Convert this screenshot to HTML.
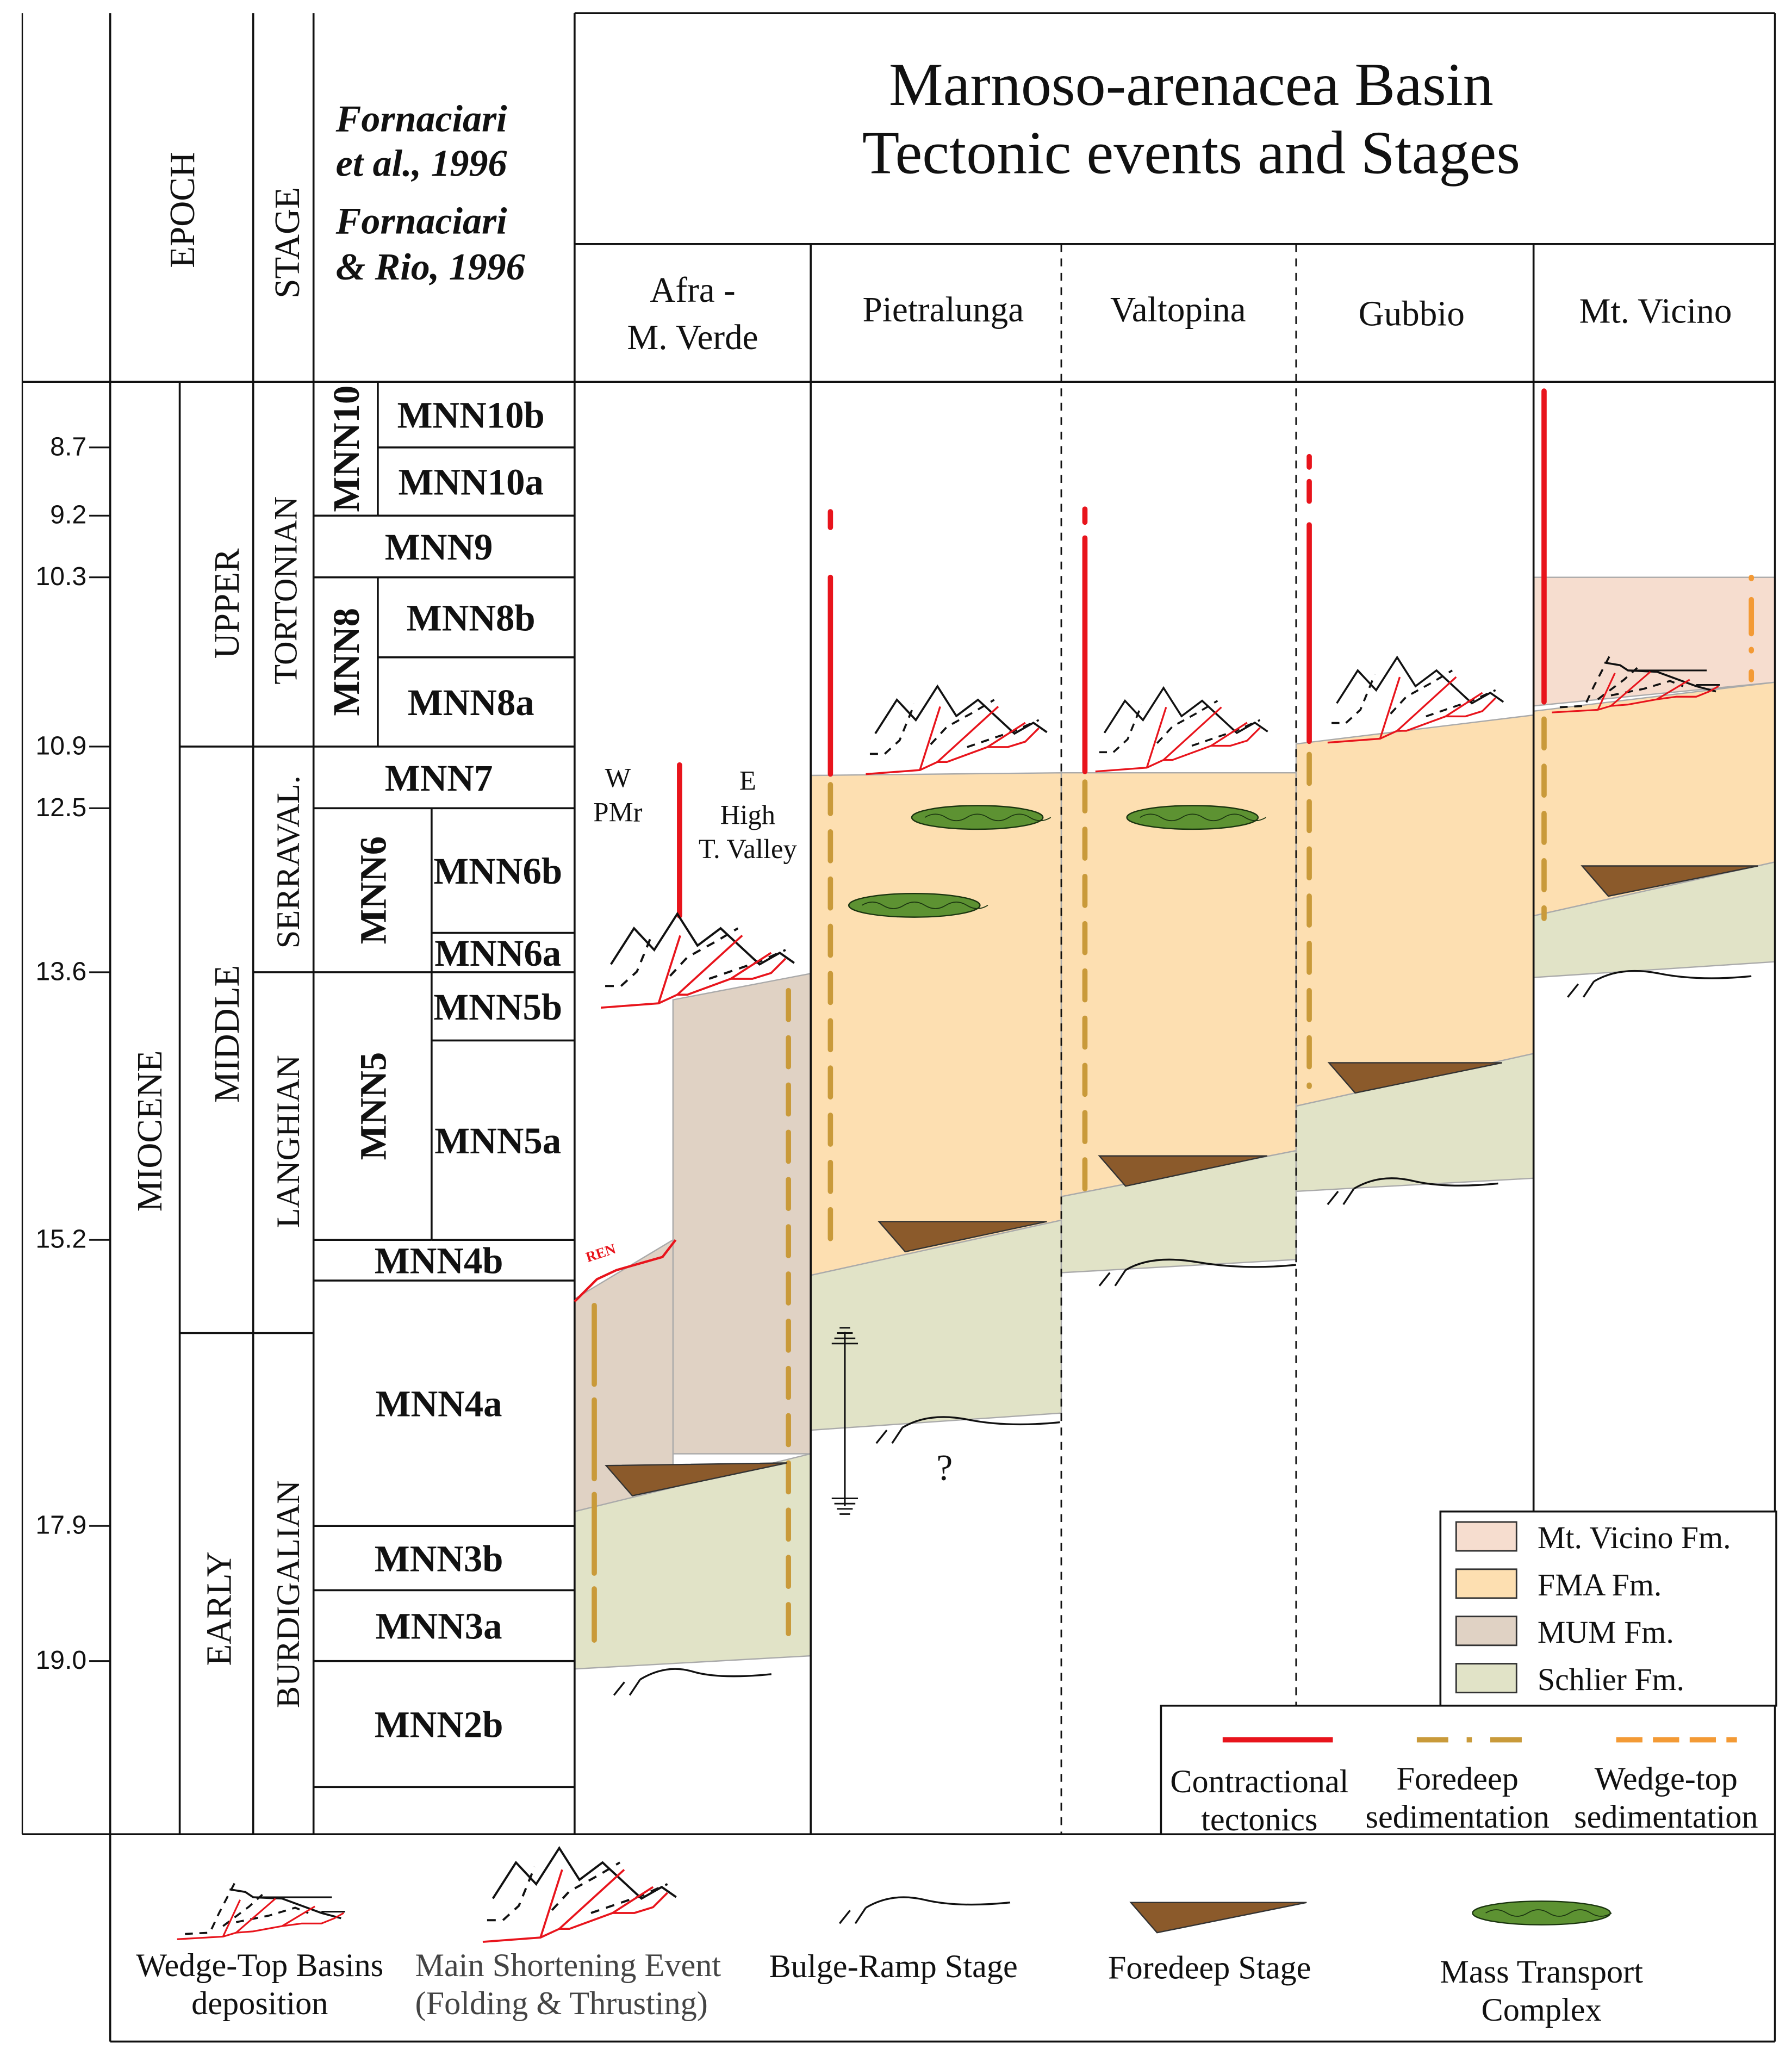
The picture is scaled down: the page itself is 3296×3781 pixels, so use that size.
<!DOCTYPE html>
<html><head><meta charset="utf-8"><style>
html,body{margin:0;padding:0;background:#fff}
svg{display:block}
text{font-family:"Liberation Serif",serif;fill:#111}
</style></head><body>
<svg id="chart" width="3296" height="3781" viewBox="0 0 1366 1567" preserveAspectRatio="none" xmlns="http://www.w3.org/2000/svg">
<g id="fills"></g>
<g id="frame" stroke="#111" stroke-width="1.5" fill="none">
  <line x1="17" y1="291" x2="1353" y2="291"/>
  <line x1="17" y1="1398" x2="1353" y2="1398"/>
  <line x1="84" y1="10" x2="84" y2="1556"/>
  <line x1="137" y1="291" x2="137" y2="1398"/>
  <line x1="193" y1="10" x2="193" y2="1398"/>
  <line x1="239" y1="10" x2="239" y2="1398"/>
  <line x1="438" y1="10" x2="438" y2="1398"/>
  <line x1="438" y1="10" x2="1353" y2="10"/>
  <line x1="1353" y1="10" x2="1353" y2="1556"/>
  <line x1="438" y1="186" x2="1353" y2="186"/>
  <line x1="618" y1="186" x2="618" y2="1398"/>
  <line x1="1169" y1="186" x2="1169" y2="1300"/>
  <line x1="809" y1="186" x2="809" y2="1398" stroke-dasharray="6,5" stroke-width="1.2"/>
  <line x1="988" y1="186" x2="988" y2="1300" stroke-dasharray="6,5" stroke-width="1.2"/>
  <line x1="84" y1="1556" x2="1353" y2="1556"/>
  <line x1="17" y1="10" x2="17" y2="1398" stroke-width="1"/>
  <line x1="137" y1="569" x2="193" y2="569"/><line x1="137" y1="1016" x2="239" y2="1016"/>
  <line x1="193" y1="569" x2="239" y2="569"/><line x1="193" y1="741" x2="239" y2="741"/>
</g>
<g id="zones"></g>
<g id="ticks"></g>
<g>
  <text transform="translate(148,160) rotate(-90)" text-anchor="middle" font-size="27">EPOCH</text>
  <text transform="translate(228,185) rotate(-90)" text-anchor="middle" font-size="27">STAGE</text>
  <text x="256" y="100" font-size="29" font-weight="bold" font-style="italic">Fornaciari</text>
  <text x="256" y="134" font-size="29" font-weight="bold" font-style="italic">et al., 1996</text>
  <text x="256" y="178" font-size="29" font-weight="bold" font-style="italic">Fornaciari</text>
  <text x="256" y="213" font-size="29" font-weight="bold" font-style="italic">&amp; Rio, 1996</text>
  <text x="908" y="80" text-anchor="middle" font-size="46.5">Marnoso-arenacea Basin</text>
  <text x="908" y="132" text-anchor="middle" font-size="46.5">Tectonic events and Stages</text>
  <text x="528" y="230" text-anchor="middle" font-size="27">Afra -</text>
  <text x="528" y="266" text-anchor="middle" font-size="27">M. Verde</text>
  <text x="719" y="245" text-anchor="middle" font-size="27">Pietralunga</text>
  <text x="898" y="245" text-anchor="middle" font-size="27">Valtopina</text>
  <text x="1076" y="248" text-anchor="middle" font-size="27">Gubbio</text>
  <text x="1262" y="246" text-anchor="middle" font-size="27">Mt. Vicino</text>
  <text transform="translate(123,862) rotate(-90)" text-anchor="middle" font-size="27">MIOCENE</text>
  <text transform="translate(182,460) rotate(-90)" text-anchor="middle" font-size="27">UPPER</text>
  <text transform="translate(182,788) rotate(-90)" text-anchor="middle" font-size="27">MIDDLE</text>
  <text transform="translate(176,1226) rotate(-90)" text-anchor="middle" font-size="27">EARLY</text>
  <text transform="translate(226,450) rotate(-90)" text-anchor="middle" font-size="25">TORTONIAN</text>
  <text transform="translate(228,657) rotate(-90)" text-anchor="middle" font-size="25">SERRAVAL.</text>
  <text transform="translate(228,870) rotate(-90)" text-anchor="middle" font-size="25">LANGHIAN</text>
  <text transform="translate(228,1215) rotate(-90)" text-anchor="middle" font-size="25">BURDIGALIAN</text>
</g>
<g id="marks"></g>
<g>
  <text x="471" y="600" text-anchor="middle" font-size="21">W</text>
  <text x="471" y="626" text-anchor="middle" font-size="21">PMr</text>
  <text x="570" y="602" text-anchor="middle" font-size="21">E</text>
  <text x="570" y="628" text-anchor="middle" font-size="21">High</text>
  <text x="570" y="654" text-anchor="middle" font-size="21">T. Valley</text>
  <text transform="translate(448,962) rotate(-18)" font-size="11" style="fill:#e8141c" font-weight="bold">REN</text>
  <text x="720" y="1128" text-anchor="middle" font-size="28">?</text>
</g>
<g id="legend"></g>
</svg>
<script>
const NS="http://www.w3.org/2000/svg";
// ---- data ----
const tickAges=[8.7,9.2,10.3,10.9,12.5,13.6,15.2,17.9,19.0];
const tickLabels=["8.7","9.2","10.3","10.9","12.5","13.6","15.2","17.9","19.0"];
const tickPix=[341,393,440,569,616,741,945,1163,1266];
const zoneNames=["MNN10b","MNN10a","MNN9","MNN8b","MNN8a","MNN7","MNN6b","MNN6a","MNN5b","MNN5a","MNN4b","MNN4a","MNN3b","MNN3a","MNN2b"];
const zoneTops=[291,341,393,440,501,569,616,711,741,793,945,976,1163,1212,1266];
const zoneBots=[341,393,440,501,569,616,711,741,793,945,976,1163,1212,1266,1362];
const zoneIndent=[1,1,0,1,1,0,1,1,1,1,0,0,0,0,0];
const groupNames=["MNN10","MNN8","MNN6","MNN5"];
const groupTops=[291,440,616,741];
const groupBots=[393,569,741,945];
const groupRight=[288,288,329,329];
const fmaBlocks=[[618,809,591,589,972,930],[809,988,589,589,912,877],[988,1169,567,545,843,803],[1169,1353,542,520,698,657]];
const schlierBlocks=[[438,618,1152,1108,1272,1262],[618,809,972,930,1090,1077],[809,988,912,877,970,960],[988,1169,843,803,908,898],[1169,1353,698,657,745,733]];
const mumBlocks=[[513,618,762,742,1108,1108],[438,513,990,945,1152,1134]];
const vicinoBlocks=[[1169,1353,440,440,538,520]];
// ---- helpers ----
function el(tag,attrs,parent){const e=document.createElementNS(NS,tag);for(const k in attrs)e.setAttribute(k,attrs[k]);parent.appendChild(e);return e;}
function yScale(age){for(let i=0;i<tickAges.length-1;i++){if(age<=tickAges[i+1]){const t=(age-tickAges[i])/(tickAges[i+1]-tickAges[i]);return tickPix[i]+t*(tickPix[i+1]-tickPix[i]);}}return tickPix[tickPix.length-1];}
const fills=document.getElementById('fills');
function block(b,color,name){const p=el('polygon',{points:`${b[0]},${b[2]} ${b[1]},${b[3]} ${b[1]},${b[5]} ${b[0]},${b[4]}`,fill:color,stroke:'#aaa','stroke-width':1},fills);

}
vicinoBlocks.forEach(b=>block(b,'#f6ddcf','mt-vicino-fm'));
fmaBlocks.forEach(b=>block(b,'#fddfb1','fma-fm'));
mumBlocks.forEach(b=>block(b,'#e0d2c4','mum-fm'));
schlierBlocks.forEach(b=>block(b,'#e1e3c7','schlier-fm'));
const tg=document.getElementById('ticks');
tickAges.forEach((a,i)=>{const y=yScale(a);
const l=el('line',{x1:68,y1:y,x2:84,y2:y,stroke:'#111','stroke-width':1.3},tg);


const t=el('text',{x:66,y:y+6,'text-anchor':'end','font-size':20,style:'font-family:"Liberation Sans",sans-serif'},tg);t.textContent=tickLabels[i];

});
const zg=document.getElementById('zones');
zoneNames.forEach((n,i)=>{const x0=zoneIndent[i]?(i>=6&&i<=9?329:288):239;
el('line',{x1:x0,y1:zoneBots[i],x2:438,y2:zoneBots[i],stroke:'#111','stroke-width':1.5},zg);
const t=el('text',{x:(x0+438)/2-4,y:(zoneTops[i]+zoneBots[i])/2+10,'text-anchor':'middle','font-size':28.5,'font-weight':'bold'},zg);t.textContent=n;

});
el('line',{x1:239,y1:291,x2:438,y2:291,stroke:'#111','stroke-width':1.5},zg);
groupNames.forEach((n,i)=>{el('line',{x1:groupRight[i],y1:groupTops[i],x2:groupRight[i],y2:groupBots[i],stroke:'#111','stroke-width':1.5},zg);
el('line',{x1:239,y1:groupBots[i],x2:groupRight[i],y2:groupBots[i],stroke:'#111','stroke-width':1.5},zg);
const cx=(239+groupRight[i])/2,cy=(groupTops[i]+groupBots[i])/2;
const t=el('text',{transform:`translate(${cx+10},${cy}) rotate(-90)`,'text-anchor':'middle','font-size':28.5,'font-weight':'bold'},zg);t.textContent=n;

});
const mg=document.getElementById('marks');
const RED='#e8141c',FD='#c99a3a',WT='#f39a35';
function vline(x,y1,y2,color,dash,name){const l=el('line',{x1:x,y1:y1,x2:x,y2:y2,stroke:color,'stroke-width':4,'stroke-linecap':'round','stroke-dasharray':dash||'none'},mg);

}
function mountain(x,y,s,name){const g=el('g',{transform:`translate(${x},${y}) scale(${s})`,fill:'none'},mg);


el('polyline',{points:'7,-30 23,-55 37,-40 53,-65 67,-43 83,-55 110,-30 124,-38 134,-31',stroke:'#111','stroke-width':1.5},g);
el('polyline',{points:'3,-15 14,-15 25,-25 36,-52',stroke:'#111','stroke-width':1.5,'stroke-dasharray':'6,5'},g);
el('polyline',{points:'48,-22 60,-35 80,-46 95,-55',stroke:'#111','stroke-width':1.5,'stroke-dasharray':'6,5'},g);
el('polyline',{points:'75,-20 110,-32 128,-40',stroke:'#111','stroke-width':1.5,'stroke-dasharray':'6,5'},g);
el('polyline',{points:'0,0 40,-3 53,-9 60,-9 90,-20 105,-20 118,-24 128,-34',stroke:RED,'stroke-width':1.4},g);
el('polyline',{points:'40,-3 55,-50',stroke:RED,'stroke-width':1.4},g);
el('polyline',{points:'53,-9 98,-50',stroke:RED,'stroke-width':1.4},g);
el('polyline',{points:'90,-20 118,-38',stroke:RED,'stroke-width':1.4},g);}
function wedge(x,y,name){const g=el('g',{transform:`translate(${x},${y})`,fill:'none'},mg);


el('polyline',{points:'40,-38 52,-36 58,-32 80,-31 110,-20 125,-16',stroke:'#111','stroke-width':1.5},g);
el('line',{x1:58,y1:-32,x2:118,y2:-32,stroke:'#111','stroke-width':1.3},g);
el('line',{x1:110,y1:-21,x2:128,y2:-21,stroke:'#111','stroke-width':1.3},g);
el('polyline',{points:'6,-4 25,-5 32,-20 45,-45',stroke:'#111','stroke-width':1.5,'stroke-dasharray':'6,5'},g);
el('polyline',{points:'35,-10 55,-25 65,-34',stroke:'#111','stroke-width':1.5,'stroke-dasharray':'6,5'},g);
el('polyline',{points:'45,-13 70,-18 90,-24 100,-20',stroke:'#111','stroke-width':1.5,'stroke-dasharray':'6,5'},g);
el('polyline',{points:'0,0 35,-2 45,-5 58,-6 80,-10 95,-12 110,-12 120,-16 127,-20',stroke:RED,'stroke-width':1.3},g);
el('polyline',{points:'35,-2 48,-30',stroke:RED,'stroke-width':1.3},g);
el('polyline',{points:'45,-5 75,-31',stroke:RED,'stroke-width':1.3},g);
el('polyline',{points:'80,-10 105,-25',stroke:RED,'stroke-width':1.3},g);}
function foredeep(x1,y1,x2,y2,name){const p=el('polygon',{points:`${x1},${y1} ${x2},${y2} ${x1+20},${y1+23}`,fill:'#8b5a2b',stroke:'#333','stroke-width':1},mg);

}
function bulge(x,y,w,name){const g=el('g',{transform:`translate(${x},${y+12})`,fill:'none',stroke:'#111','stroke-width':1.4},mg);


el('path',{d:`M0,18 L8,8 M12,18 L20,6 M20,6 Q40,-6 ${w*0.5},0 T${w},2`},g);}
function mtc(x,y,w,name){const e=el('ellipse',{cx:x,cy:y,rx:w/2,ry:9,fill:'#5d9232',stroke:'#1b3510','stroke-width':1},mg);


el('path',{d:`M${x-w/2+10},${y} q8,-5 16,0 t16,0 t16,0 t16,0 t16,0 t16,0`,fill:'none',stroke:'#1b3510','stroke-width':0.7},mg);}
// Afra
vline(518,583,698,RED,null,'afra-contraction');
mountain(458,768,1.1,'afra-shortening');
vline(453,995,1250,FD,'60,12','afra-foredeep-sed');
vline(601,755,1250,FD,'22,14','afra-foredeep-sed-e');
el('polyline',{points:'438,992 455,975 470,968 505,958 515,945',fill:'none',stroke:RED,'stroke-width':1.8},mg);
foredeep(462,1117,600,1115,'afra-foredeep-stage');
bulge(468,1262,120,'afra-bulge');
// Pietralunga
vline(633,390,402,RED,null,'pietralunga-contraction-dash');
vline(633,440,590,RED,null,'pietralunga-contraction');
vline(633,598,955,FD,'22,14','pietralunga-foredeep-sed');
mountain(660,590,1.03,'pietralunga-shortening');
mtc(745,623,100,'pietralunga-mtc-1');mtc(697,690,100,'pietralunga-mtc-2');
foredeep(670,931,798,931,'pietralunga-foredeep-stage');
bulge(668,1070,140,'pietralunga-bulge');
// Valtopina
vline(827,388,398,RED,null,'valtopina-contraction-dash');
vline(827,410,588,RED,null,'valtopina-contraction-dash2');
vline(827,596,912,FD,'22,14','valtopina-foredeep-sed');
mountain(835,588,0.98,'valtopina-shortening');
mtc(909,623,100,'valtopina-mtc');
foredeep(838,881,966,881,'valtopina-foredeep-stage');
bulge(838,950,150,'valtopina-bulge');
// Gubbio
vline(998,348,356,RED,null,'gubbio-contraction-dot');
vline(998,367,382,RED,null,'gubbio-contraction-dash');
vline(998,400,565,RED,null,'gubbio-contraction');
vline(998,575,828,FD,'22,14','gubbio-foredeep-sed');
mountain(1012,566,1.0,'gubbio-shortening');
foredeep(1013,810,1145,810,'gubbio-foredeep-stage');
bulge(1012,888,130,'gubbio-bulge');
// Mt Vicino
vline(1177,298,535,RED,null,'vicino-contraction');
vline(1177,548,700,FD,'22,14','vicino-foredeep-sed');
vline(1335,440,518,WT,'1,16,26,12','vicino-wedge-top-sed');
wedge(1183,543,'vicino-wedge-top');
foredeep(1206,660,1340,660,'vicino-foredeep-stage');
bulge(1195,730,140,'vicino-bulge');
// uncertain range symbol
el('line',{x1:644,y1:1015,x2:644,y2:1148,stroke:'#111','stroke-width':1.3},mg);
for(let i=0;i<4;i++){el('line',{x1:640-i*2,y1:1012+i*4,x2:648+i*2,y2:1012+i*4,stroke:'#111','stroke-width':1.2},mg);
el('line',{x1:634+i*2,y1:1142+i*4,x2:654-i*2,y2:1142+i*4,stroke:'#111','stroke-width':1.2},mg);}
// legend
const lg=document.getElementById('legend');
el('rect',{x:1098,y:1152,width:256,height:148,fill:'#fff',stroke:'#111','stroke-width':1.5},lg);
const legNames=["Mt. Vicino Fm.","FMA Fm.","MUM Fm.","Schlier Fm."];
const legColors=['#f6ddcf','#fddfb1','#e0d2c4','#e1e3c7'];
legNames.forEach((n,i)=>{const y=1172+i*36;
const r=el('rect',{x:1110,y:y-12,width:46,height:22,fill:legColors[i],stroke:'#333','stroke-width':1.2},lg);


const t=el('text',{x:1172,y:y+8,'font-size':24},lg);t.textContent=n;

});
el('rect',{x:885,y:1300,width:468,height:98,fill:'#fff',stroke:'#111','stroke-width':1.5},lg);
el('line',{x1:932,y1:1326,x2:1016,y2:1326,stroke:RED,'stroke-width':4},lg);
el('line',{x1:1080,y1:1326,x2:1162,y2:1326,stroke:FD,'stroke-width':4,'stroke-dasharray':'24,14,4,14'},lg);
el('line',{x1:1232,y1:1326,x2:1324,y2:1326,stroke:WT,'stroke-width':4,'stroke-dasharray':'20,8'},lg);
const lt=[["Contractional",960,1366],["tectonics",960,1395],["Foredeep",1111,1364],["sedimentation",1111,1393],["Wedge-top",1270,1364],["sedimentation",1270,1393]];
lt.forEach(a=>{const t=el('text',{x:a[1],y:a[2],'text-anchor':'middle','font-size':25},lg);t.textContent=a[0];

});
wedge(135,1478,'legend-wedge-top-symbol');
mountain(368,1480,1.1,'legend-shortening-symbol');
bulge(640,1436,130,'legend-bulge-symbol');
foredeep(862,1450,996,1450,'legend-foredeep-symbol');
mtc(1175,1458,105,'legend-mtc-symbol');
const bl=[["Wedge-Top Basins",198,1506],["deposition",198,1535],["Main Shortening Event",433,1506],["(Folding & Thrusting)",428,1535],["Bulge-Ramp Stage",681,1507],["Foredeep Stage",922,1508],["Mass Transport",1175,1511],["Complex",1175,1540]];
bl.forEach((a,i)=>{const t=el('text',{x:a[1],y:a[2],'text-anchor':'middle','font-size':25,style:(i==2||i==3)?'fill:#444':'fill:#111'},lg);t.textContent=a[0];

});
</script>
</body></html>
